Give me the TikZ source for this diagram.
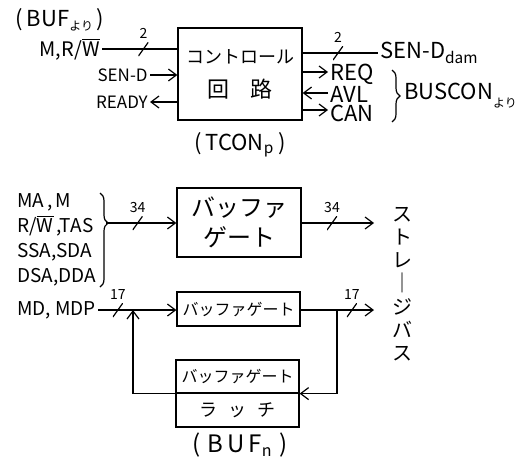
\documentclass[tikz,border=0pt]{standalone}
\usepackage{fontspec}
\setmainfont{Noto Sans CJK JP}
\usetikzlibrary{arrows.meta,decorations.pathreplacing}

\begin{document}
\begin{tikzpicture}[x=0.5pt, y=-0.5pt,
		box/.style = {rectangle, draw, line width=0.6pt, inner sep=0pt},
		r/.style = {-{Straight Barb[length=4pt,width=6pt]}, line width=0.6pt},
		l/.style = {line width=0.6pt},
		bus/.style = {inner sep=0pt, minimum width=5pt, minimum height=7pt,
			path picture={\draw[-, line width=0.6pt] (path picture bounding box.south west) -- (path picture bounding box.north east);},
			label={[font=\fontsize{7}{7}\selectfont, inner sep=1pt]above:#1}},
		lbl/.style = {font=\fontsize{11}{12.5}\selectfont, inner sep=1pt},
		sml/.style = {font=\fontsize{8.5}{9}\selectfont, inner sep=1pt}
		]
		\useasboundingbox (0,0) rectangle (522,466);
		
		%Nodes
		\node[lbl]	(bufsrc)	at	(60, 20)	{(\,BUF\raisebox{-2pt}{\fontsize{6}{6}\selectfont より}\,)};
		\node[sml, anchor=east]	(mrw)	at	(102, 49)	{\fontsize{10}{10}\selectfont M,R/$\overline{\hbox{W}}$};
		\node[sml, anchor=east]	(send)	at	(150, 75)	{SEN-D};
		\node[sml, anchor=east]	(ready)	at	(150, 102)	{READY};
		\node[box, minimum width=62pt, minimum height=46pt, align=center, font=\fontsize{10}{17}\selectfont]	(ctrl)	at	(240, 74)
			{{\fontsize{9}{9}\selectfont コントロール}\\{\fontsize{11}{11}\selectfont 回\hspace{1em}路}};
		\node[lbl]	(tcon)	at	(240, 145)	{(\,TCON\textsubscript{p}\,)};
		\node[lbl, anchor=west]	(sendd)	at	(378, 53)	{SEN-D\textsubscript{dam}};
		\node[lbl, anchor=west]	(req)	at	(328, 74)	{REQ};
		\node[lbl, anchor=west]	(avl)	at	(328, 94)	{AVL};
		\node[lbl, anchor=west]	(can)	at	(328, 113)	{CAN};
		\node[lbl, anchor=west]	(buscon)	at	(402, 96)	{BUSCON\raisebox{-4pt}{\fontsize{6}{6}\selectfont より}};
		
		\node[lbl, anchor=west, align=left, font=\fontsize{9.5}{12.5}\selectfont]	(addr)	at	(15, 240)	{MA\,,\,M\\R/$\overline{\hbox{W}}$\,,TAS\\SSA,SDA\\DSA,DDA};
		\coordinate	(tip)	at	(106, 223);
		\node[box, minimum width=62pt, minimum height=34.5pt, align=center, font=\fontsize{12}{15}\selectfont]	(g1)	at	(239, 222.5)	{バッファ\\ゲート};
		\coordinate	(sb1)	at	(374, 223);
		\node[align=center, font=\fontsize{10}{11.6}\selectfont]	(sbus)	at	(402, 284)	{ス\\ト\\レ\\｜\\ジ\\バ\\ス};
		
		\node[lbl, anchor=west, font=\fontsize{9.5}{9.5}\selectfont]	(md)	at	(15, 310)	{MD, MDP};
		\node[box, minimum width=61.5pt, minimum height=17pt, font=\fontsize{8}{8}\selectfont]	(g2)	at	(238.5, 309)	{バッファゲート};
		\coordinate	(sb2)	at	(374, 310);
		\coordinate	(j)	at	(337, 310);
		\coordinate	(k)	at	(133, 310);
		\node[box, minimum width=61.5pt, minimum height=16.5pt, font=\fontsize{8}{8}\selectfont]	(g3)	at	(237.5, 376.5)	{バッファゲート};
		\node[box, minimum width=61.5pt, minimum height=17pt, font=\fontsize{9}{9}\selectfont]	(latch)	at	(237.5, 410)	{ラ\hspace{0.6em}ッ\hspace{0.6em}チ};
		\node[lbl, font=\fontsize{12}{12}\selectfont]	(bufn)	at	(240, 445)	{(\;B\,U\,F\textsubscript{n}\;)};
		
		%Lines
		\draw[l]	(mrw.east)	--	node[bus=2, pos=0.55]	{}	(ctrl.west |- mrw.east);
		\draw[r]	(send.east)	--	(ctrl.west |- send.east);
		\draw[r]	(ctrl.west |- ready.east)	--	(ready.east);
		\draw[l]	(ctrl.east |- sendd.west)	--	node[bus=2, pos=0.47]	{}	(sendd.west);
		\draw[r]	(ctrl.east |- 0,72)	--	(req.west |- 0,72);
		\draw[r]	(avl.west |- 0,93)	--	(ctrl.east |- 0,93);
		\draw[r]	(ctrl.east |- 0,110)	--	(can.west |- 0,110);
		\draw[l, decorate, decoration={brace, amplitude=4pt}]	(392, 70)	--	(392, 122);
		
		\draw[l, decorate, decoration={brace, amplitude=4pt, aspect=0.32}]	(100, 193)	--	(100, 287);
		\draw[r]	(tip)	--	node[bus=34, pos=0.45]	{}	(g1.west |- tip);
		\draw[r]	(g1.east |- sb1)	--	node[bus=34, pos=0.42]	{}	(sb1);
		
		\draw[r]	(md.east)	--	node[bus=17, pos=0.25]	{}	(g2.west |- md.east);
		\draw[r]	(g2.east |- sb2)	--	node[bus=17, pos=0.7]	{}	(sb2);
		\draw[r]	(j)	|-	(g3.south east);
		\draw[r]	(g3.south west)	-|	(k);
	\end{tikzpicture}
\end{document}
